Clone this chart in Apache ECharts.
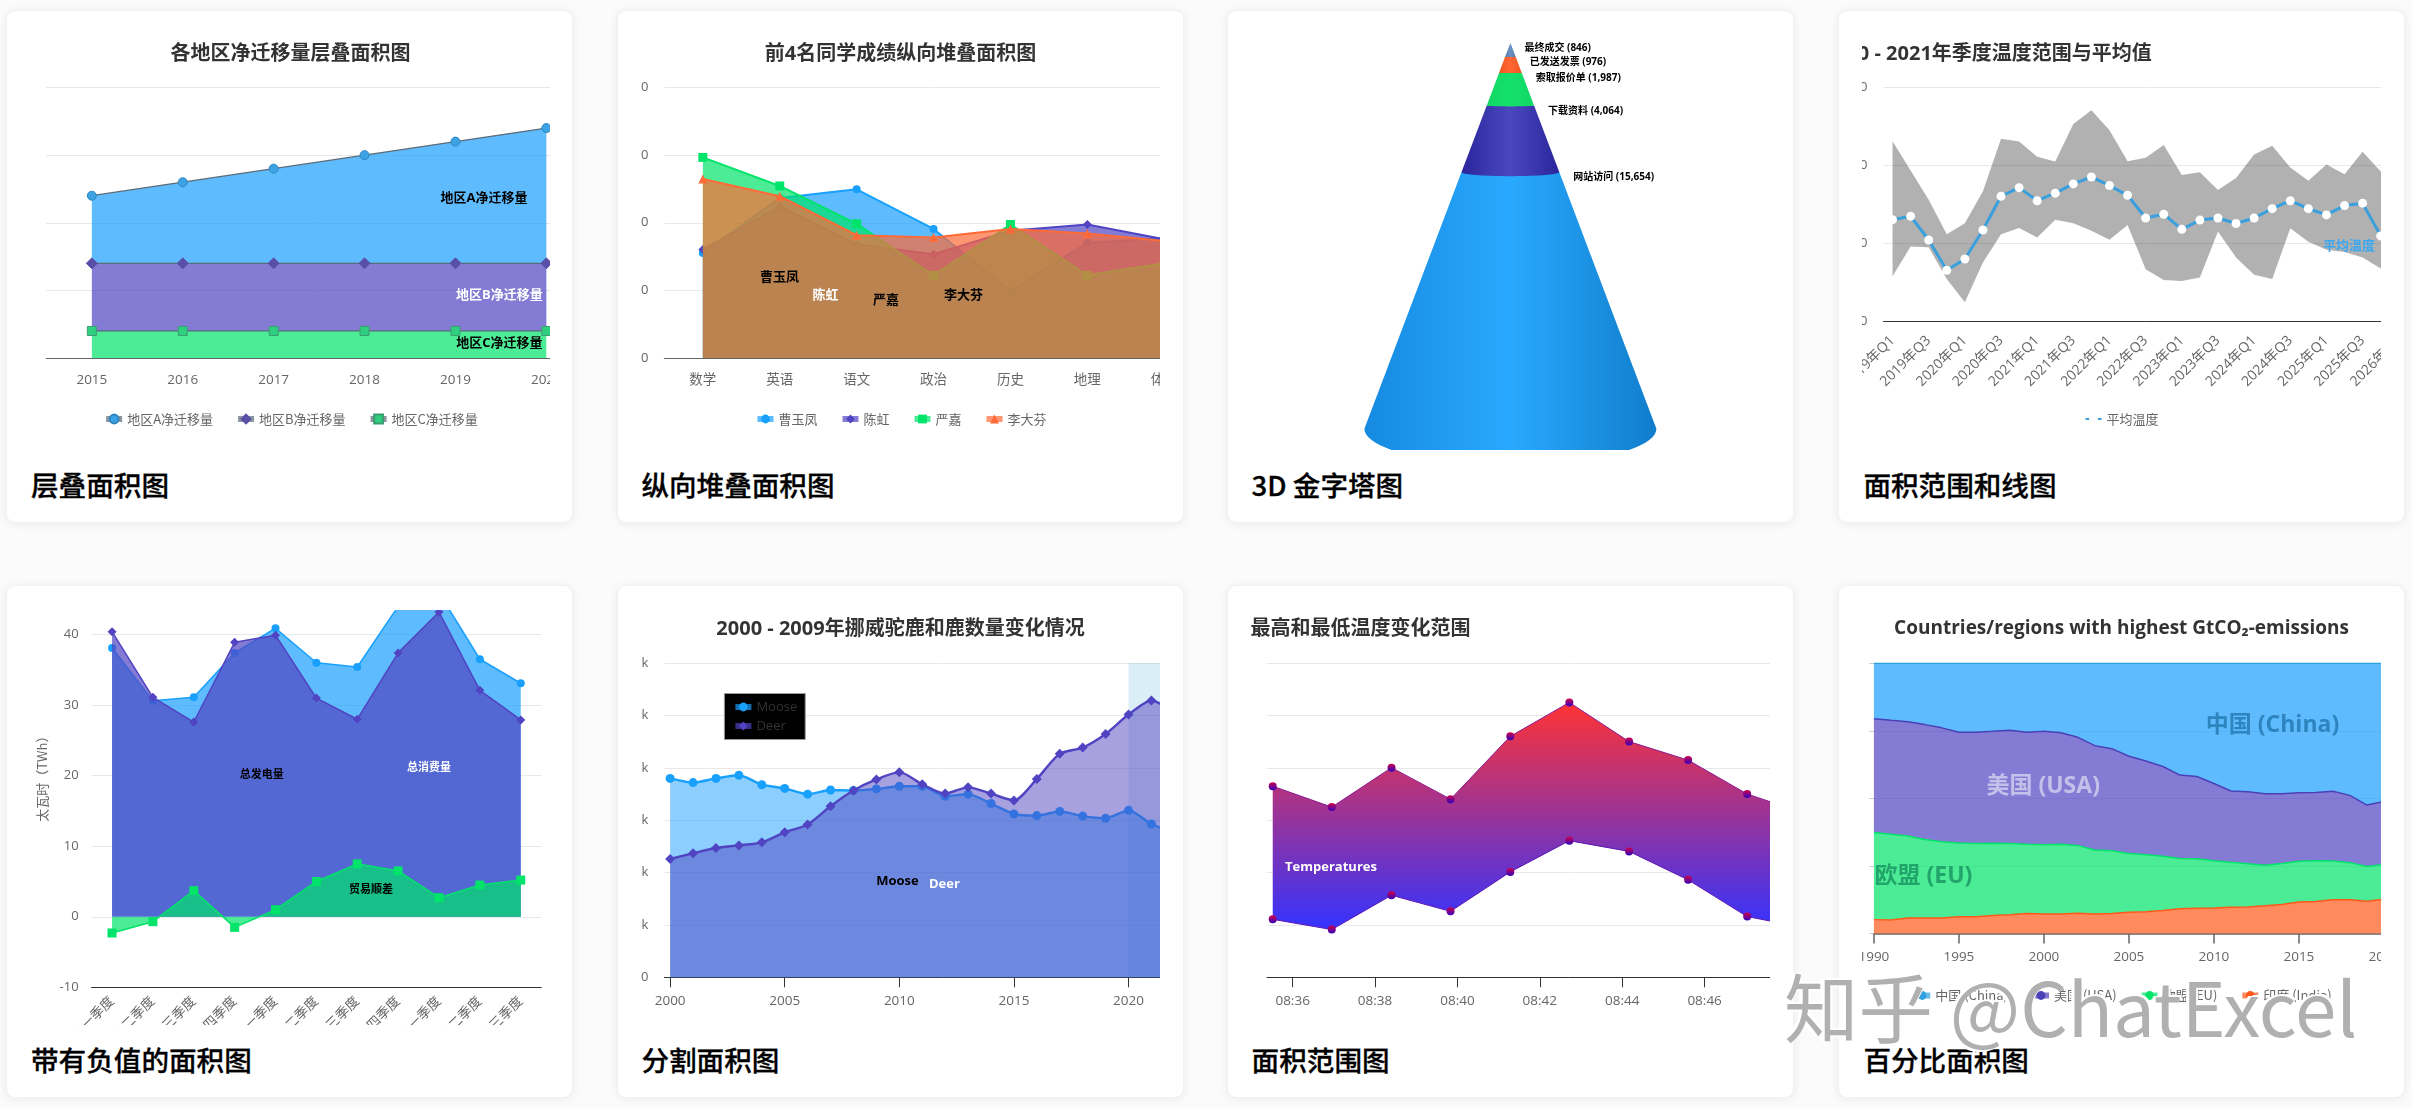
<!DOCTYPE html>
<html lang="zh"><head><meta charset="utf-8">
<script src="https://cdn.jsdelivr.net/npm/echarts@6/dist/echarts.min.js"></script>
<style>
html,body{margin:0;padding:0;width:2412px;height:1108px;background:#fbfbfb;overflow:hidden;font-family:"Noto Sans CJK SC",sans-serif}
.card{position:absolute;width:567px;height:513px;background:#fff;border-radius:9px;box-shadow:0 1px 10px rgba(0,0,0,.07);box-sizing:border-box;border:1px solid #f1f1f1}
.cap{position:absolute;font-size:27.6px;font-weight:500;color:#000;line-height:36px;white-space:nowrap;-webkit-text-stroke:.3px #000}
.clip{position:absolute;overflow:hidden;width:519px;height:415px}
.mark{position:absolute;left:1784px;top:957px;font-size:74.5px;line-height:96px;font-family:"Noto Sans CJK SC";font-weight:400;color:#b0b0b0;white-space:nowrap;text-shadow:-3px -1px 0 #fff,-3px 2px 0 #fff,2px -2px 0 #fff}
</style></head><body>
<script>
/* ---------- data ---------- */
const yearsA=['2015','2016','2017','2018','2019','2020'];
const regionA=[50,60,70,80,90,100], regionB=[50,50,50,50,50,50], regionC=[20,20,20,20,20,20];

const subjects=['数学','英语','语文','政治','历史','地理','体育'];
const caoYufeng=[77.6,118.3,124.7,95.4,49.4,85.2,88.5];
const chenHong=[80.2,112,84,76.8,94.1,98.7,87.8];
const yanJia=[148.3,127.2,99.2,61.1,98.7,61.1,70];
const liDafen=[132.3,119.6,90.8,89.1,95.4,92.1,86.5];

const funnelNames=['网站访问','下载资料','索取报价单','已发送发票','最终成交'];
const funnelValues=[15654,4064,1987,976,846];

const quarters=['2019年Q1','2019年Q2','2019年Q3','2019年Q4','2020年Q1','2020年Q2','2020年Q3','2020年Q4','2021年Q1','2021年Q2','2021年Q3','2021年Q4','2022年Q1','2022年Q2','2022年Q3','2022年Q4','2023年Q1','2023年Q2','2023年Q3','2023年Q4','2024年Q1','2024年Q2','2024年Q3','2024年Q4','2025年Q1','2025年Q2','2025年Q3','2025年Q4','2026年Q1'];
const meanTemp=[13.04,13.48,10.43,6.54,8,11.71,16.04,17.15,15.47,16.44,17.63,18.52,17.41,16.17,13.26,13.74,11.8,12.99,13.26,12.55,13.26,14.45,15.47,14.45,13.65,14.85,15.16,10.96,10.3];
const highTemp=[23.11,19.35,15.6,11.18,12.59,16.7,23.42,23.07,21.12,20.5,25.32,27.09,24.52,20.55,20.99,22.62,18.78,19.13,16.84,18.38,21.39,22.54,19.75,18.03,20.11,18.87,21.74,19.22,23.55];
const lowTemp=[5.79,9.59,9.5,5.44,2.43,7.56,11.18,11.98,10.74,13.04,12.59,11.62,10.47,12.37,6.67,5.3,5.17,5.61,11.53,8.18,5.97,5.44,11.93,10.21,9.19,8.88,8.18,6.76,7.64];

const seasons=['2021年一季度','2021年二季度','2021年三季度','2021年四季度','2022年一季度','2022年二季度','2022年三季度','2022年四季度','2023年一季度','2023年二季度','2023年三季度'];
const generation=[38.1,30.6,31.1,37.4,40.9,36,35.4,44,45.9,36.5,33.1];
const consumption=[40.4,31.1,27.6,38.9,39.9,31,28,37.4,43.2,32.1,27.9];
const tradeBalance=[-2.3,-0.7,3.7,-1.5,1,5,7.5,6.5,2.7,4.5,5.2];

const years2000=[2000,2001,2002,2003,2004,2005,2006,2007,2008,2009,2010,2011,2012,2013,2014,2015,2016,2017,2018,2019,2020,2021,2022];
const moose=[38000,37200,38000,38600,36800,36100,35000,35800,35700,36000,36500,36500,34600,35000,33200,31200,30900,31700,30800,30400,31900,29300,27700];
const deer=[22600,23700,24700,25200,25800,27700,29200,32700,35700,37800,39200,36900,35100,36300,35100,33800,37900,42700,43900,46500,50200,52900,50500];
const tickYears6=[2000,2005,2010,2015,2020];

const times=['08:35:31','08:36:57','08:38:24','08:39:50','08:41:17','08:42:43','08:44:10','08:45:36','08:47:02','08:48:29'];
const tempUpper=[18.26,16.26,20.03,17.02,23.02,26.26,22.52,20.75,17.51,15.6];
const tempLower=[5.54,4.56,7.84,6.3,10.07,13.05,12.03,9.31,5.8,4.7];
const tickMinutes=[516,518,520,522,524,526,528];

const years1990=['1990','1991','1992','1993','1994','1995','1996','1997','1998','1999','2000','2001','2002','2003','2004','2005','2006','2007','2008','2009','2010','2011','2012','2013','2014','2015','2016','2017','2018','2019','2020'];
const indiaTop=[5.1,5,5.7,5.7,5.7,6.2,6.2,6.6,6.9,7.4,7.2,7.2,7.5,7.2,7.4,7.8,8,8.5,9.1,9.3,9.4,9.7,9.8,10.2,10.7,11.6,11.8,12.5,12.5,11.9,12.6];
const euTop=[37.4,36.7,36.1,34.8,33.9,33.5,33.3,33.4,33.3,33,32.8,33,32.5,30.9,30.6,29.6,29.1,28.6,27.7,27.6,26.9,26.3,25.8,25.2,25.9,26.7,26.9,26.8,26.2,24.8,25.5];
const usaTop=[79.5,78.9,78.4,77.3,76.1,74.5,74.5,74.8,75.2,74.5,74.8,74.3,72.6,69.5,68.4,65.6,63.8,61.8,58.6,58.1,55.5,52.7,52.4,51.7,51.7,52.1,52.2,52.6,51.1,47.5,48.8];

const cardTitles=['层叠面积图','纵向堆叠面积图','3D 金字塔图','面积范围和线图','带有负值的面积图','分割面积图','面积范围图','百分比面积图'];

/* ---------- layout + styles ---------- */
const BLUE='#19A0FD',PURPLE='#5044C2',GREEN='#00E469',ORANGE='#FF591A',ORANGE2='#FF6A36';
const F='"Open Sans","Noto Sans CJK SC",sans-serif', CJK='"Noto Sans CJK SC",sans-serif';
const CX=[6,617,1227,1838],CY=[10,585],CLX=[30.6,640.6,1250.6,1861.5],CAPX=[31,641.4,1251.6,1863.4],M=100;

function mount(idx){
  const col=idx%4,row=idx>3?1:0;
  const card=document.createElement('div');card.className='card';card.style.left=CX[col]+'px';card.style.top=CY[row]+'px';document.body.appendChild(card);
  const cap=document.createElement('div');cap.className='cap';cap.textContent=cardTitles[idx];cap.style.left=CAPX[col]+'px';cap.style.top=(CY[row]+456)+'px';document.body.appendChild(cap);
  const clip=document.createElement('div');clip.className='clip';const top=CY[row]+25;clip.style.left=CLX[col]+'px';clip.style.top=top+'px';document.body.appendChild(clip);
  const inner=document.createElement('div');inner.style.cssText='position:absolute;left:-'+M+'px;top:-'+M+'px;width:'+(519+2*M)+'px;height:'+(415+2*M)+'px';clip.appendChild(inner);
  return {chart:echarts.init(inner,null,{renderer:'canvas'}),gx:x=>x-CLX[col]+M,gy:y=>y-top+M};
}
const titleOf=(c,text,y,left,size)=>({text,padding:0,left:left==null?'center':c.gx(left),top:c.gy(y-12),textStyle:{fontFamily:F,fontSize:size||20,fontWeight:'bold',color:'#333',lineHeight:26}});
const legendOf=(c,y,names,extra)=>Object.assign({left:'center',top:c.gy(y-6.5),padding:0,data:names,itemWidth:16,itemHeight:11,itemGap:22,textStyle:{fontFamily:CJK,fontSize:13,color:'#666'},lineStyle:{width:6,opacity:.7}},extra||{});
const gridOf=(c,l,t,w,h)=>({left:c.gx(l),top:c.gy(t),width:w,height:h,containLabel:false});
const SPLIT={show:true,lineStyle:{color:'#e8e8e8',width:1}};
const ylab={fontFamily:F,fontSize:13,color:'#666',margin:16};
const xlab={fontFamily:F,fontSize:13.5,color:'#666'};
const lab=(c,text,x,y,fill,size)=>({type:'text',z:100,x:c.gx(x),y:c.gy(y),silent:true,style:{text,align:'center',verticalAlign:'middle',fill,fontFamily:F,fontWeight:'bold',fontSize:size||13}});

/* 1: stacked */
(function(){const c=mount(0);
 const ser=(name,data,sym,col,mk,bd)=>({name,type:'line',stack:'s',data,symbol:sym,symbolSize:sym==='diamond'?11:9,lineStyle:{color:'#5b6a78',width:1.2},itemStyle:{color:mk,borderColor:bd,borderWidth:1},areaStyle:{color:col,opacity:.7}});
 c.chart.setOption({animation:false,
  title:titleOf(c,'各地区净迁移量层叠面积图',53),
  legend:legendOf(c,419,['地区A净迁移量','地区B净迁移量','地区C净迁移量']),
  grid:gridOf(c,46,87.5,545.4,270.5),
  xAxis:{type:'category',data:yearsA,axisTick:{show:false},axisLine:{lineStyle:{color:'#666',width:1.2}},axisLabel:Object.assign({margin:15},xlab)},
  yAxis:{type:'value',min:0,max:200,interval:50,axisLine:{show:false},axisTick:{show:false},axisLabel:ylab,splitLine:SPLIT},
  series:[ser('地区C净迁移量',regionC,'rect',GREEN,'#2FCF7F','#3a9d70'),ser('地区B净迁移量',regionB,'diamond',PURPLE,'#5A4FA8','#5A4FA8'),ser('地区A净迁移量',regionA,'circle',BLUE,'#3BA2E3','#2E86C1')],
  graphic:[lab(c,'地区A净迁移量',483.5,198.7,'#000'),lab(c,'地区B净迁移量',499,295.5,'#fff'),lab(c,'地区C净迁移量',499,343,'#000')]});
})();

/* 2: overlapping */
(function(){const c=mount(1);
 const ser=(name,data,sym,col,z)=>({name,type:'line',z,data,symbol:sym,symbolSize:sym==='circle'?8:9,lineStyle:{color:col,width:2},itemStyle:{color:col},areaStyle:{color:col,opacity:.7}});
 c.chart.setOption({animation:false,
  title:titleOf(c,'前4名同学成绩纵向堆叠面积图',53),
  legend:legendOf(c,419,['曹玉凤','陈虹','严嘉','李大芬']),
  grid:gridOf(c,664,87.5,538.3,270.5),
  xAxis:{type:'category',data:subjects,axisTick:{show:false},axisLine:{lineStyle:{color:'#666',width:1.2}},axisLabel:Object.assign({margin:15},xlab)},
  yAxis:{type:'value',min:0,max:200,interval:50,axisLine:{show:false},axisTick:{show:false},axisLabel:ylab,splitLine:SPLIT},
  series:[ser('曹玉凤',caoYufeng,'circle',BLUE,3),ser('陈虹',chenHong,'diamond',PURPLE,4),ser('严嘉',yanJia,'rect',GREEN,5),ser('李大芬',liDafen,'triangle',ORANGE2,6)],
  graphic:[lab(c,'曹玉凤',779,277,'#000'),lab(c,'陈虹',825,295,'#fff'),lab(c,'严嘉',885.5,300,'#000'),lab(c,'李大芬',963,295,'#000')]});
})();

/* 3: cone */
(function(){const c=mount(2);
 const total=funnelValues.reduce((a,b)=>a+b,0);
 const shades=[['#158AE0','#29A9FF','#107DCB'],['#2A259A','#4B48BE','#2A259A'],['#12D864','#15E06C','#12D864'],['#F0561F','#FF6633','#F0561F'],['#5A80B0','#6A90C4','#5A80B0']];
 const above=i=>funnelValues.slice(i+1).reduce((a,b)=>a+b,0);
 c.chart.setOption({animation:false,
  grid:gridOf(c,1364,43,292,385.7),
  xAxis:{type:'value',min:-1,max:1,show:false},
  yAxis:{type:'value',min:0,max:total,inverse:true,show:false},
  series:[{type:'custom',clip:false,data:funnelValues.map((v,i)=>[i]),encode:{x:[],y:[]},
   renderItem(p,api){
    const i=api.value(0),c0=above(i),c1=c0+funnelValues[i],t0=c0/total,t1=c1/total;
    const lt=api.coord([-t0,c0]),rt=api.coord([t0,c0]),lb=api.coord([-t1,c1]),rb=api.coord([t1,c1]);
    const rx=(rb[0]-lb[0])/2,mx=(rb[0]+lb[0])/2,ry=rx*.25*t1,pts=[lt,rt];
    for(let k=0;k<=40;k++){const a=Math.PI*k/40;pts.push([mx+rx*Math.cos(a),rb[1]+ry*Math.sin(a)]);}
    const s=shades[i];
    return {type:'group',children:[
     {type:'polygon',shape:{points:pts},style:{fill:new echarts.graphic.LinearGradient(0,0,1,0,[{offset:0,color:s[0]},{offset:.5,color:s[1]},{offset:1,color:s[2]}])}},
     {type:'text',x:rt[0]+14,y:rt[1]+5.5,style:{text:funnelNames[i]+' ('+funnelValues[i].toLocaleString('en-US')+')',align:'left',verticalAlign:'middle',fill:'#000',fontFamily:F,fontWeight:'bold',fontSize:10}}
    ]};
   }}]});
})();

/* 4: range + line */
(function(){const c=mount(3);
 c.chart.setOption({animation:false,
  title:titleOf(c,'2000 - 2021年季度温度范围与平均值',53,1823),
  legend:legendOf(c,419,['平均温度'],{lineStyle:{type:'dashed',width:2}}),
  grid:gridOf(c,1883,87.5,524.3,233.8),
  xAxis:{type:'category',data:quarters,axisTick:{show:false},axisLine:{lineStyle:{color:'#333',width:1}},axisLabel:Object.assign({},xlab,{rotate:45,interval:1,margin:17,fontSize:14})},
  yAxis:{type:'value',min:0,max:30,interval:10,axisLine:{show:false},axisTick:{show:false},axisLabel:ylab,splitLine:SPLIT},
  series:[
   {name:'下限',type:'line',stack:'r',data:lowTemp,symbol:'none',lineStyle:{opacity:0},areaStyle:{opacity:0}},
   {name:'范围',type:'line',stack:'r',data:highTemp.map((v,i)=>+(v-lowTemp[i]).toFixed(2)),symbol:'none',lineStyle:{opacity:0},areaStyle:{color:'#333',opacity:.38}},
   {name:'平均温度',type:'line',data:meanTemp,symbol:'circle',symbolSize:9,lineStyle:{color:'#3AA0DD',width:3},itemStyle:{color:'#fff'},z:5}],
  graphic:[lab(c,'平均温度',2348.5,246,'#3AA8F0')]});
})();

/* 5: negative values */
(function(){const c=mount(4);
 const ser=(name,data,sym,col,z)=>({name,type:'line',z,data,symbol:sym,symbolSize:sym==='circle'?8:9,lineStyle:{color:col,width:1.5},itemStyle:{color:col},areaStyle:{color:col,opacity:.7}});
 c.chart.setOption({animation:false,
  grid:gridOf(c,91.2,564,449.6,423.3),
  xAxis:{type:'category',data:seasons,axisTick:{show:false},axisLine:{onZero:false,lineStyle:{color:'#333',width:1}},axisLabel:Object.assign({rotate:45,interval:0,margin:12},xlab)},
  yAxis:{type:'value',min:-10,max:50,interval:10,name:'太瓦时（TWh）',nameLocation:'middle',nameGap:36,nameRotate:90,nameTextStyle:{fontFamily:CJK,fontSize:13,color:'#666'},axisLine:{show:false},axisTick:{show:false},axisLabel:Object.assign({},ylab,{margin:13}),splitLine:SPLIT},
  series:[ser('总发电量',generation,'circle',BLUE,3),ser('总消费量',consumption,'diamond',PURPLE,4),ser('贸易顺差',tradeBalance,'rect',GREEN,5)],
  graphic:[lab(c,'总发电量',261.4,775,'#000',11),lab(c,'总消费量',428.6,768,'#fff',11),lab(c,'贸易顺差',370.5,890,'#000',11)]});
})();

/* 6: moose / deer */
(function(){const c=mount(5);
 const pair=a=>a.map((v,i)=>[years2000[i],v]);
 const ser=(name,data,sym,col,z,extra)=>Object.assign({name,type:'line',z,data:pair(data),smooth:.25,symbol:sym,symbolSize:sym==='circle'?9:10,lineStyle:{color:col,width:2.4},itemStyle:{color:col},areaStyle:{color:col,opacity:.5}},extra||{});
 c.chart.setOption({animation:false,
  title:titleOf(c,'2000 - 2009年挪威驼鹿和鹿数量变化情况',628),
  legend:{left:c.gx(724),top:c.gy(693.5),orient:'vertical',data:['Moose','Deer'],backgroundColor:'#000',borderColor:'#999',borderWidth:1,padding:[7,8,7,8],itemWidth:16,itemHeight:11,itemGap:6,textStyle:{fontFamily:F,fontSize:13,color:'#333'},lineStyle:{width:6,opacity:.7}},
  grid:gridOf(c,664,663.3,555.8,314),
  xAxis:{type:'value',min:1999.75,max:2024,splitLine:{show:false},axisTick:{length:10,lineStyle:{color:'#333'},customValues:tickYears6},axisLine:{lineStyle:{color:'#333'}},axisLabel:Object.assign({customValues:tickYears6,formatter:v=>String(v),margin:17},xlab)},
  yAxis:{type:'value',min:0,max:60000,interval:10000,axisLine:{show:false},axisTick:{show:false},axisLabel:Object.assign({formatter:v=>v?(v/1000)+'k':'0'},ylab),splitLine:SPLIT},
  series:[ser('Moose',moose,'circle',BLUE,3),ser('Deer',deer,'diamond',PURPLE,4,{markArea:{silent:true,itemStyle:{color:'rgba(68,170,213,.2)'},data:[[{xAxis:2020,yAxis:0},{xAxis:2024,yAxis:60000}]]}})],
  graphic:[lab(c,'Moose',897,881,'#000'),lab(c,'Deer',944,884,'#fff')]});
})();

/* 7: range */
(function(){const c=mount(6);
 const mins=times.map(t=>{const p=t.split(':').map(Number);return p[0]*60+p[1]+p[2]/60;});
 const dot={color:new echarts.graphic.LinearGradient(0,0,0,1,[{offset:0,color:'#d0004a'},{offset:1,color:'#3000c0'}])};
 c.chart.setOption({animation:false,
  title:titleOf(c,'最高和最低温度变化范围',628,1250),
  grid:gridOf(c,1266.7,663.3,602.3,314),
  xAxis:{type:'value',min:515.38,max:530,splitLine:{show:false},axisTick:{length:10,lineStyle:{color:'#333'},customValues:tickMinutes},axisLine:{lineStyle:{color:'#333'}},axisLabel:Object.assign({customValues:tickMinutes,formatter:v=>{const h=Math.floor(v/60),m=Math.round(v-h*60);return String(h).padStart(2,'0')+':'+String(m).padStart(2,'0');},margin:17},xlab)},
  yAxis:{type:'value',min:0,max:30,interval:5,axisLine:{show:false},axisTick:{show:false},axisLabel:ylab,splitLine:SPLIT},
  series:[
   {name:'band',type:'custom',z:2,clip:true,data:[[mins[0],tempLower[0],tempUpper[0]]],encode:{x:0,y:[1,2]},
    renderItem(p,api){
     const pts=mins.map((m,i)=>api.coord([m,tempUpper[i]])).concat(mins.map((m,i)=>api.coord([m,tempLower[i]])).reverse());
     return {type:'polygon',shape:{points:pts},style:{fill:new echarts.graphic.LinearGradient(0,0,0,1,[{offset:0,color:'#FF3333'},{offset:1,color:'#3333FF'}])}};
    }},
   {name:'low',type:'line',z:3,data:tempLower.map((v,i)=>[mins[i],v]),symbol:'circle',symbolSize:8,lineStyle:{color:'#5a14b4',width:1},itemStyle:dot},
   {name:'high',type:'line',z:3,data:tempUpper.map((v,i)=>[mins[i],v]),symbol:'circle',symbolSize:8,lineStyle:{color:'#8a1a90',width:1},itemStyle:dot}],
  graphic:[lab(c,'Temperatures',1330.6,867.5,'#fff')]});
})();

/* 8: percent */
(function(){const c=mount(7);
 const ser=(name,data,line,col)=>({name,type:'line',stack:'p',data,symbol:'none',lineStyle:{color:line,width:1.5},itemStyle:{color:line},areaStyle:{color:col,opacity:.7}});
 const india=indiaTop,eu=euTop.map((v,i)=>+(v-indiaTop[i]).toFixed(1)),usa=usaTop.map((v,i)=>+(v-euTop[i]).toFixed(1)),china=usaTop.map(v=>+(100-v).toFixed(1));
 c.chart.setOption({animation:false,
  title:titleOf(c,'Countries/regions with highest GtCO₂-emissions',628,null,19),
  legend:legendOf(c,995.5,['中国 (China)','美国 (USA)','欧盟 (EU)','印度 (India)']),
  grid:gridOf(c,1873.4,663.3,510,270.1),
  xAxis:{type:'category',boundaryGap:false,data:years1990,splitLine:{show:false},axisTick:{length:10,interval:4,lineStyle:{color:'#666',width:1.5}},axisLine:{lineStyle:{color:'#666',width:1.5}},axisLabel:Object.assign({interval:4,margin:17,showMaxLabel:true},xlab)},
  yAxis:{type:'value',min:0,max:100,interval:25,axisLine:{show:false},axisTick:{show:true,length:5,lineStyle:{color:'#ccc'}},axisLabel:{show:false},splitLine:SPLIT},
  series:[ser('印度 (India)',india,ORANGE,ORANGE),ser('欧盟 (EU)',eu,GREEN,GREEN),ser('美国 (USA)',usa,'#4A40B8',PURPLE),ser('中国 (China)',china,'#2FA0E0',BLUE)],
  graphic:[lab(c,'中国 (China)',2272,725.5,'#2E84BE',23),lab(c,'美国 (USA)',2042.7,786,'#C4C0EA',23),lab(c,'欧盟 (EU)',1923,876.5,'#21A56A',23)]});
})();

const wm=document.createElement('div');wm.className='mark';wm.textContent='知乎 @ChatExcel';document.body.appendChild(wm);
</script>
</body></html>
